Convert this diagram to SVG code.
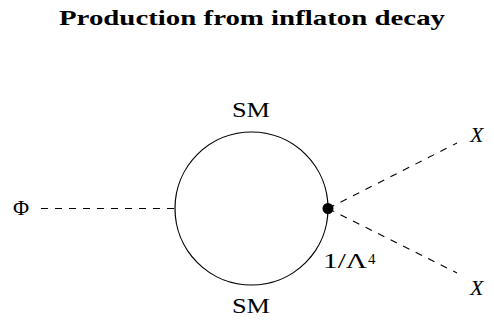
<svg xmlns="http://www.w3.org/2000/svg" width="494" height="323" viewBox="0 0 494 323">
<style>
.t{font-family:"Liberation Serif","DejaVu Serif",serif;fill:#000}
.d{stroke:#000;stroke-width:1.1;stroke-dasharray:7 7;fill:none}
</style>
<rect width="494" height="323" fill="#fff"/>
<text class="t" x="252" y="25" text-anchor="middle" font-size="22" font-weight="bold" textLength="386" lengthAdjust="spacingAndGlyphs">Production from inflaton decay</text>
<g id="connectors">
<line class="d" x1="41" y1="208.5" x2="175" y2="208.5"/>
<line class="d" x1="328" y1="208.5" x2="457" y2="143"/>
<line class="d" x1="328" y1="208.5" x2="457" y2="273"/>
</g>
<g id="loop">
<circle cx="251.5" cy="208.5" r="76.5" fill="none" stroke="#000" stroke-width="1.2"/>
<text class="t" x="251" y="116.5" text-anchor="middle" font-size="22" textLength="38" lengthAdjust="spacingAndGlyphs">SM</text>
<text class="t" x="251" y="313" text-anchor="middle" font-size="22" textLength="38" lengthAdjust="spacingAndGlyphs">SM</text>
</g>
<g id="phi">
<text class="t" x="21" y="215" text-anchor="middle" font-size="22">Φ</text>
</g>
<g id="vertex">
<circle cx="328" cy="208.5" r="5.5" fill="#000"/>
<text class="t" x="323" y="268" font-size="22" textLength="44" lengthAdjust="spacingAndGlyphs">1/Λ</text>
<text class="t" x="368" y="264" font-size="15">4</text>
</g>
<g id="x1">
<text class="t" x="470" y="142" font-size="22" font-style="italic">X</text>
</g>
<g id="x2">
<text class="t" x="470" y="295" font-size="22" font-style="italic">X</text>
</g>
</svg>
